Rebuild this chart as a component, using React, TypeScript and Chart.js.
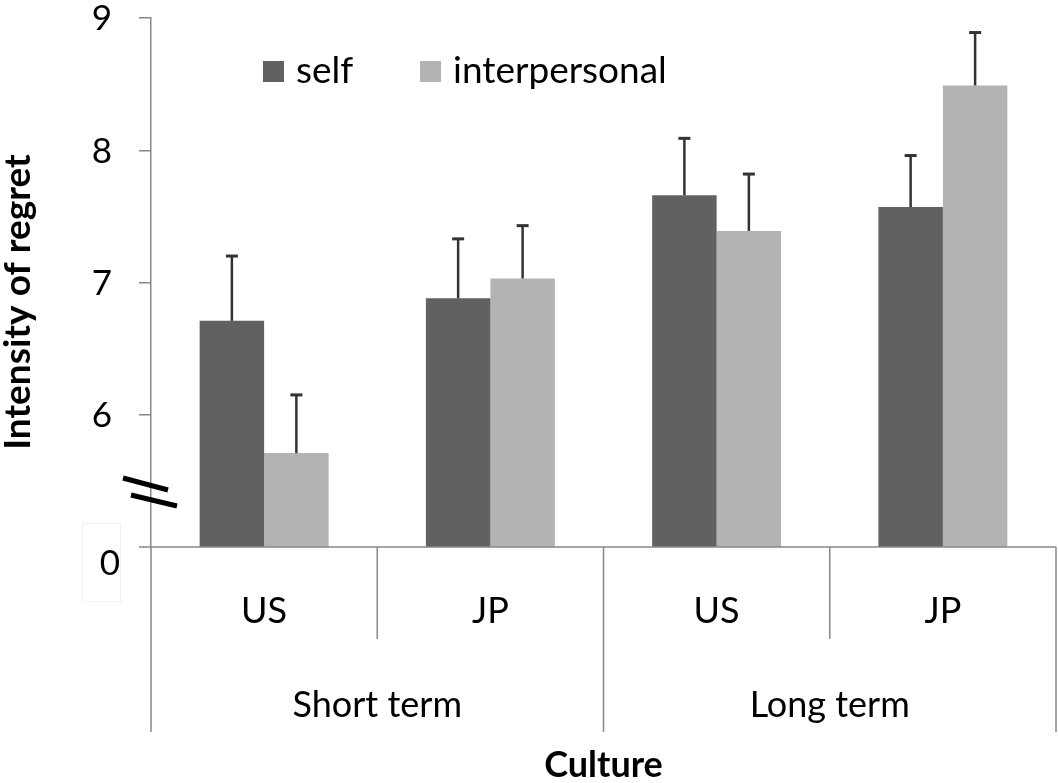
import React, { useEffect, useRef } from "react";
import { Chart, registerables } from "chart.js";

Chart.register(...registerables);

const cultures = ["US", "JP", "US", "JP"];
const terms = ["Short term", "Long term"];
const seriesNames = ["self", "interpersonal"];
const selfMeans = [6.71, 6.88, 7.66, 7.57];
const selfErrors = [0.49, 0.45, 0.43, 0.39];
const interMeans = [5.71, 7.03, 7.39, 8.49];
const interErrors = [0.44, 0.4, 0.43, 0.4];
const yTicks = [6, 7, 8, 9];
const yMin = 5;
const yMax = 9;
const breakLabel = "0";
const xTitle = "Culture";
const yTitle = "Intensity of regret";

const SELF_COLOR = "#616161";
const INTER_COLOR = "#b3b3b3";
const AXIS_COLOR = "#878787";
const FONT = "Lato, 'Open Sans', sans-serif";

const W = 1058;
const H = 783;

const customPlugin = {
  id: "custom",
  afterDatasetsDraw(chart: any) {
    const ctx = chart.ctx;
    const ys = chart.scales.y;
    const errs = [selfErrors, interErrors];
    const means = [selfMeans, interMeans];
    ctx.save();
    ctx.strokeStyle = "#333333";
    for (let d = 0; d < 2; d++) {
      const meta = chart.getDatasetMeta(d);
      meta.data.forEach((bar: any, i: number) => {
        const x = bar.x;
        const yTop = ys.getPixelForValue(means[d][i] + errs[d][i]);
        const yBar = ys.getPixelForValue(means[d][i]);
        ctx.lineWidth = 2.5;
        ctx.beginPath();
        ctx.moveTo(x, yBar);
        ctx.lineTo(x, yTop);
        ctx.stroke();
        ctx.lineWidth = 3;
        ctx.beginPath();
        ctx.moveTo(x - 6, yTop);
        ctx.lineTo(x + 6, yTop);
        ctx.stroke();
      });
    }
    ctx.restore();
  },
  afterDraw(chart: any) {
    const ctx = chart.ctx;
    const area = chart.chartArea;
    const xs = chart.scales.x;
    const ys = chart.scales.y;
    const left = area.left;
    const right = area.right;
    const bottom = area.bottom;
    const catW = (right - left) / cultures.length;
    ctx.save();

    // y tick labels
    ctx.fillStyle = "#000";
    ctx.font = `35px ${FONT}`;
    ctx.textAlign = "right";
    ctx.textBaseline = "middle";
    yTicks.forEach((v) => {
      ctx.fillText(String(v), 112, ys.getPixelForValue(v) + 1);
    });
    ctx.textBaseline = "alphabetic";

    // x axis line and separators
    ctx.strokeStyle = AXIS_COLOR;
    ctx.lineWidth = 1.5;
    ctx.beginPath();
    ctx.moveTo(left - 12, bottom);
    ctx.lineTo(right, bottom);
    ctx.stroke();
    for (let i = 0; i <= cultures.length; i++) {
      const x = left + catW * i;
      const long = i % 2 === 0;
      ctx.beginPath();
      ctx.moveTo(x, bottom);
      ctx.lineTo(x, long ? bottom + 185 : bottom + 92);
      ctx.stroke();
    }

    // category labels
    ctx.fillStyle = "#000";
    ctx.textAlign = "center";
    ctx.font = `36px ${FONT}`;
    cultures.forEach((c, i) => {
      const x = xs.getPixelForValue(i);
      ctx.fillText(c, x, bottom + 76);
    });
    terms.forEach((t, i) => {
      const x = left + catW * (2 * i + 1);
      ctx.fillText(t, x, bottom + 170);
    });
    ctx.font = `bold 36px ${FONT}`;
    ctx.fillText(xTitle, left + catW * 2, H - 6);

    // y title
    ctx.save();
    ctx.translate(30, 302);
    ctx.rotate(-Math.PI / 2);
    ctx.font = `bold 37px ${FONT}`;
    ctx.textAlign = "center";
    ctx.fillText(yTitle, 0, 0);
    ctx.restore();

    // zero label with faint box
    ctx.strokeStyle = "#f0f0f0";
    ctx.lineWidth = 1;
    ctx.strokeRect(82.5, 523.5, 38, 78);
    ctx.font = `35px ${FONT}`;
    ctx.textAlign = "right";
    ctx.fillStyle = "#000";
    ctx.fillText(breakLabel, 120, 575);

    // axis break marker
    ctx.strokeStyle = "#000";
    ctx.lineWidth = 5;
    ctx.lineCap = "butt";
    ctx.beginPath();
    ctx.moveTo(123, 478);
    ctx.lineTo(168, 490);
    ctx.moveTo(131, 495);
    ctx.lineTo(177, 506);
    ctx.stroke();

    // legend
    const colors = [SELF_COLOR, INTER_COLOR];
    const boxX = [263, 420];
    ctx.font = `37px ${FONT}`;
    ctx.textAlign = "left";
    seriesNames.forEach((n, i) => {
      ctx.fillStyle = colors[i];
      ctx.fillRect(boxX[i], 61, 21, 21);
      ctx.fillStyle = "#000";
      ctx.fillText(n, boxX[i] + 33, 83);
    });

    ctx.restore();
  },
};

export default function App() {
  const ref = useRef<HTMLCanvasElement | null>(null);
  useEffect(() => {
    if (!ref.current) return;
    const chart = new Chart(ref.current, {
      type: "bar",
      data: {
        labels: cultures,
        datasets: [
          { label: seriesNames[0], data: selfMeans, backgroundColor: SELF_COLOR, borderWidth: 0 },
          { label: seriesNames[1], data: interMeans, backgroundColor: INTER_COLOR, borderWidth: 0 },
        ],
      },
      options: {
        responsive: false,
        animation: false,
        layout: { padding: { left: 0, right: 2, top: 18, bottom: H - 547 } },
        categoryPercentage: 0.57,
        barPercentage: 1.0,
        plugins: { legend: { display: false }, tooltip: { enabled: false } },
        scales: {
          x: { display: false },
          y: {
            min: yMin,
            max: yMax,
            afterFit: (scale: any) => {
              scale.width = 151;
            },
            afterBuildTicks: (scale: any) => {
              scale.ticks = [yMin, ...yTicks].map((v) => ({ value: v }));
            },
            ticks: { display: false },
            grid: {
              drawOnChartArea: false,
              drawTicks: true,
              tickLength: 12,
              color: AXIS_COLOR,
              lineWidth: (c: any) => (c.tick && c.tick.value === yMin ? 0 : 1.5),
            },
            border: { color: AXIS_COLOR, width: 1.5 },
          },
        },
      } as any,
      plugins: [customPlugin],
    });
    return () => chart.destroy();
  }, []);
  return (
    <div style={{ position: "fixed", left: 0, top: 0, width: W, height: H, background: "#fff" }}>
      <canvas ref={ref} width={W} height={H} style={{ width: W, height: H }} />
    </div>
  );
}
